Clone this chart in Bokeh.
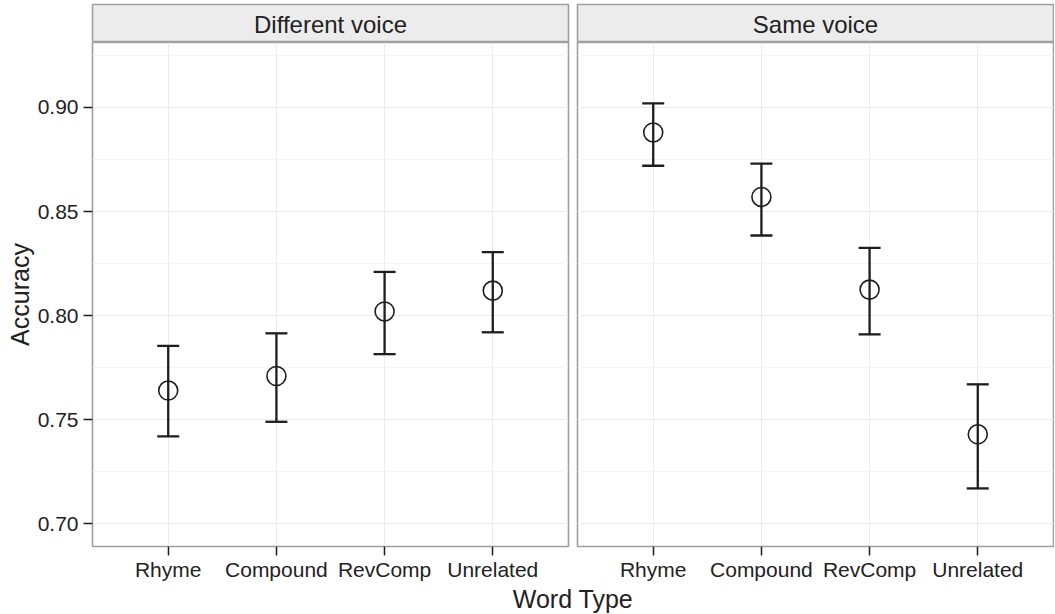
from bokeh.plotting import figure
from bokeh.models import (ColumnDataSource, Whisker, TeeHead, FixedTicker, Grid,
                          FactorRange, Range1d, CustomJSTickFormatter)
from bokeh.layouts import column, row
from bokeh.core.properties import value
from bokeh.embed import file_html
from bokeh.resources import INLINE

# ---- data ----
categories = ["Rhyme", "Compound", "RevComp", "Unrelated"]
panels = ["Different voice", "Same voice"]
diff_mean = [0.764, 0.771, 0.802, 0.812]
diff_lower = [0.742, 0.749, 0.7815, 0.792]
diff_upper = [0.7855, 0.7915, 0.821, 0.8305]
same_mean = [0.888, 0.857, 0.8125, 0.743]
same_lower = [0.872, 0.8385, 0.791, 0.717]
same_upper = [0.902, 0.873, 0.8325, 0.767]
y_ticks = [0.70, 0.75, 0.80, 0.85, 0.90]
y_minor = [0.675, 0.725, 0.775, 0.825, 0.875, 0.925]
x_title = "Word Type"
y_title = "Accuracy"

FONT = "Liberation Sans"
TXT = "#222222"
INK = "#1e1e1e"
BORDER = "#a0a0a0"
FRAME_W = 476
FRAME_H = 504
Y0, Y1 = 0.6891, 0.9312


def panel(mean, lower, upper, left, right, with_y):
    src = ColumnDataSource(dict(x=categories, mean=mean, lower=lower, upper=upper))
    xr = FactorRange(factors=categories, range_padding=0.2, range_padding_units="absolute")
    p = figure(x_range=xr, y_range=Range1d(Y0, Y1), frame_width=FRAME_W, frame_height=FRAME_H,
               output_backend="svg", toolbar_location=None,
               y_axis_location="left" if with_y else None,
               min_border_left=left, min_border_right=right, min_border_top=0, min_border_bottom=0)
    p.background_fill_color = "white"
    p.border_fill_color = "white"
    p.outline_line_color = BORDER
    p.outline_line_width = 1.6

    ax = p.xaxis[0]
    ax.axis_line_color = None
    ax.major_tick_line_color = INK
    ax.major_tick_line_width = 1.5
    ax.major_tick_out = 9
    ax.major_tick_in = 0
    ax.minor_tick_line_color = None
    ax.major_label_text_font = FONT
    ax.major_label_text_font_size = "21px"
    ax.major_label_text_color = TXT
    ax.major_label_standoff = 2
    p.xgrid.grid_line_color = "#ebebeb"
    p.xgrid.grid_line_width = 1

    tick = FixedTicker(ticks=y_ticks, minor_ticks=y_minor)
    if with_y:
        ya = p.yaxis[0]
        ya.ticker = tick
        ya.formatter = CustomJSTickFormatter(code="return tick.toFixed(2);")
        ya.axis_line_color = None
        ya.major_tick_line_color = INK
        ya.major_tick_line_width = 1.5
        ya.major_tick_out = 9
        ya.major_tick_in = 0
        ya.minor_tick_line_color = None
        ya.major_label_text_font = FONT
        ya.major_label_text_font_size = "21px"
        ya.major_label_text_color = TXT
        ya.major_label_standoff = 5
        ya.axis_label = y_title
        ya.axis_label_text_font = FONT
        ya.axis_label_text_font_size = "25px"
        ya.axis_label_text_font_style = "normal"
        ya.axis_label_text_color = TXT
        ya.axis_label_standoff = 1
        g = p.ygrid[0]
    else:
        g = Grid(dimension=1, ticker=tick)
        p.add_layout(g)
    g.ticker = tick
    g.grid_line_color = "#ebebeb"
    g.grid_line_width = 1
    g.minor_grid_line_color = "#f6f6f6"
    g.minor_grid_line_width = 1

    w = Whisker(base="x", upper="upper", lower="lower", source=src, dimension="height",
                line_color=INK, line_width=2.3,
                upper_head=TeeHead(size=22, line_color=INK, line_width=2.3),
                lower_head=TeeHead(size=22, line_color=INK, line_width=2.3))
    p.add_layout(w)
    p.scatter(x="x", y="mean", source=src, marker="circle", size=19,
              fill_color=None, line_color=INK, line_width=1.6)
    return p


def strip(label, left, right):
    s = figure(x_range=Range1d(0, 1), y_range=Range1d(0, 1), frame_width=FRAME_W, frame_height=38,
               output_backend="svg", toolbar_location=None,
               x_axis_location=None, y_axis_location=None,
               min_border_left=left, min_border_right=right, min_border_top=4, min_border_bottom=0)
    s.background_fill_color = "#ececec"
    s.border_fill_color = "white"
    s.outline_line_color = BORDER
    s.outline_line_width = 1.6
    s.grid.visible = False
    s.text(x=[0.5], y=[0.47], text=[label], text_align="center", text_baseline="middle",
           text_font=value(FONT), text_font_size="24px", text_color=TXT)
    return s


L1, R1 = 92, 4
L2, R2 = 5, 1

s1 = strip(panels[0], L1, R1)
s2 = strip(panels[1], L2, R2)
p1 = panel(diff_mean, diff_lower, diff_upper, L1, R1, True)
p2 = panel(same_mean, same_lower, same_upper, L2, R2, False)

tw = figure(x_range=Range1d(0, 1), y_range=Range1d(0, 1),
            frame_width=(L1 + FRAME_W + R1 + L2 + FRAME_W) - L1, frame_height=30,
            output_backend="svg", toolbar_location=None,
            x_axis_location=None, y_axis_location=None,
            min_border_left=L1, min_border_right=R2, min_border_top=0, min_border_bottom=0)
tw.outline_line_color = None
tw.grid.visible = False
tw.text(x=[0.5], y=[0.5], text=[x_title], text_align="center", text_baseline="middle",
        text_font=value(FONT), text_font_size="25px", text_color=TXT)

layout = column(row(s1, s2), row(p1, p2), tw)

open("out.html", "w").write(file_html(layout, INLINE))
